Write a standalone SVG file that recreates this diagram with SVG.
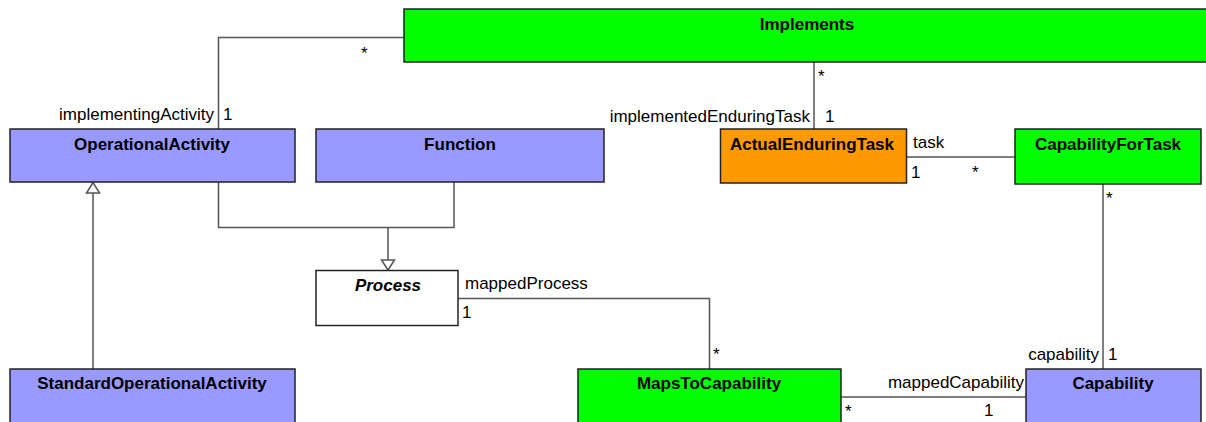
<svg xmlns="http://www.w3.org/2000/svg" width="1206" height="422" viewBox="0 0 1206 422">
  <style>
    .box { stroke: #222; stroke-width: 1.5; }
    .blue { fill: #9999ff; }
    .green { fill: #00ff00; }
    .orange { fill: #ff9900; }
    .white { fill: #ffffff; }
    .name { font-family: "Liberation Sans", Arial, sans-serif; font-size: 17px; font-weight: bold; fill: #000; text-anchor: middle; }
    .abstract { font-style: italic; }
    .lbl { font-family: "Liberation Sans", Arial, sans-serif; font-size: 17px; fill: #000; }
    .end { text-anchor: end; }
    .conn { fill: none; stroke: #555; stroke-width: 1.5; }
    .tri { fill: #fff; stroke: #555; stroke-width: 1.5; }
  </style>
  <rect width="1206" height="422" fill="#ffffff"/>

  <g id="connectors">
    <path class="conn" d="M404,37.5 H218.5 V129"/>
    <path class="conn" d="M814,62 V129"/>
    <path class="conn" d="M906,157 H1015"/>
    <path class="conn" d="M1103,184 V369"/>
    <path class="conn" d="M458,298.5 H709.5 V369"/>
    <path class="conn" d="M841,397 H1026"/>
    <path class="conn" d="M218.5,182 V227.5 H454 V182"/>
    <path class="conn" d="M388,227.5 V260"/>
    <polygon class="tri" points="388,270 381.5,260 394.5,260"/>
    <path class="conn" d="M93,369 V193"/>
    <polygon class="tri" points="93,182.5 86.5,193 99.5,193"/>

    <text class="lbl" x="361" y="59">*</text>
    <text class="lbl end" x="214" y="120">implementingActivity</text>
    <text class="lbl" x="223" y="120">1</text>

    <text class="lbl" x="818" y="82">*</text>
    <text class="lbl end" x="810" y="122">implementedEnduringTask</text>
    <text class="lbl" x="825" y="122">1</text>

    <text class="lbl" x="913" y="148">task</text>
    <text class="lbl" x="911" y="178">1</text>
    <text class="lbl" x="972" y="178">*</text>

    <text class="lbl" x="1106" y="204">*</text>
    <text class="lbl end" x="1099" y="360">capability</text>
    <text class="lbl" x="1108" y="360">1</text>

    <text class="lbl" x="465" y="289">mappedProcess</text>
    <text class="lbl" x="462" y="318">1</text>
    <text class="lbl" x="713" y="360">*</text>

    <text class="lbl end" x="1024" y="388">mappedCapability</text>
    <text class="lbl" x="845" y="417">*</text>
    <text class="lbl" x="984" y="416">1</text>
  </g>

  <g id="Implements">
    <rect class="box green" x="404" y="9" width="810" height="53"/>
    <text class="name" x="807" y="30">Implements</text>
  </g>
  <g id="OperationalActivity">
    <rect class="box blue" x="10" y="129" width="285" height="53"/>
    <text class="name" x="152" y="150">OperationalActivity</text>
  </g>
  <g id="Function">
    <rect class="box blue" x="316" y="129" width="288" height="53"/>
    <text class="name" x="460" y="150">Function</text>
  </g>
  <g id="ActualEnduringTask">
    <rect class="box orange" x="720.5" y="129" width="186" height="54"/>
    <text class="name" x="812" y="150">ActualEnduringTask</text>
  </g>
  <g id="CapabilityForTask">
    <rect class="box green" x="1015" y="129" width="186" height="55"/>
    <text class="name" x="1108" y="150">CapabilityForTask</text>
  </g>
  <g id="Process">
    <rect class="box white" x="316" y="270.5" width="142" height="55"/>
    <text class="name abstract" x="388" y="291">Process</text>
  </g>
  <g id="StandardOperationalActivity">
    <rect class="box blue" x="10" y="369" width="285" height="60"/>
    <text class="name" x="152" y="389">StandardOperationalActivity</text>
  </g>
  <g id="MapsToCapability">
    <rect class="box green" x="578" y="369" width="263" height="60"/>
    <text class="name" x="709" y="389">MapsToCapability</text>
  </g>
  <g id="Capability">
    <rect class="box blue" x="1026" y="369" width="175" height="60"/>
    <text class="name" x="1113" y="389">Capability</text>
  </g>
</svg>
